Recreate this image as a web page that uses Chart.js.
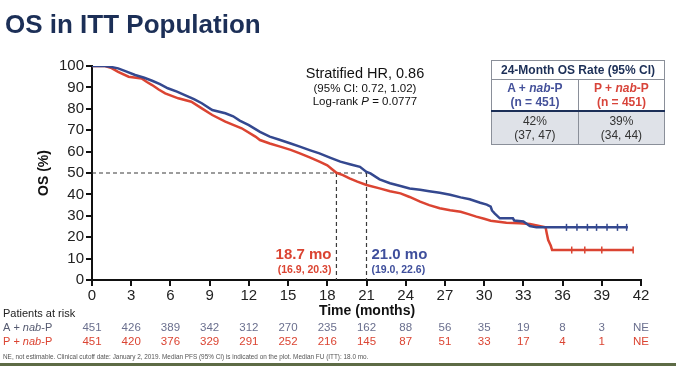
<!DOCTYPE html>
<html>
<head>
<meta charset="utf-8">
<script src="https://cdn.jsdelivr.net/npm/chart.js@4"></script>
<style>
  body { margin: 0; background: #fff; font-family: 'Liberation Sans', Arial, sans-serif; }
  .wrap { position: relative; width: 676px; height: 366px; overflow: hidden; }
  #km { position: absolute; left: 0; top: 0; }
  .title { position: absolute; left: 5px; top: 9px; font-size: 26px; font-weight: bold; color: #1c2f57; white-space: nowrap; }
  .stats { position: absolute; left: 295px; top: 64px; width: 140px; text-align: center; color: #111; }
  .stats .l1 { font-size: 14.5px; line-height: 18px; }
  .stats .l2 { font-size: 11.5px; line-height: 13px; }
  table.rate { position: absolute; left: 491px; top: 60px; width: 174px; border-collapse: collapse; font-size: 12px; text-align: center; }
  table.rate td { border: 1px solid #8a8f99; padding: 0; line-height: 14px; }
  table.rate .hd { font-weight: bold; color: #1c2f57; height: 18px; }
  table.rate .arm { font-weight: bold; height: 30px; border-bottom: 2px solid #1c2f57; }
  table.rate .val { background: #dfe2e8; color: #333; height: 32px; }
  .blue { color: #44519a; }
  .red { color: #d8443a; }
  .foot { position: absolute; left: 3px; top: 353px; font-size: 6.4px; color: #555; white-space: nowrap; }
  .bar { position: absolute; left: 0; top: 363px; width: 676px; height: 3px; background: #5d6b45; }
</style>
</head>
<body>
<div class="wrap">
  <canvas id="km" width="676" height="366"></canvas>
  <div class="title">OS in ITT Population</div>
  <div class="stats">
    <div class="l1">Stratified HR, 0.86</div>
    <div class="l2">(95% CI: 0.72, 1.02)</div>
    <div class="l2">Log-rank <i>P</i> = 0.0777</div>
  </div>
  <table class="rate">
    <tr><td class="hd" colspan="2">24-Month OS Rate (95% CI)</td></tr>
    <tr>
      <td class="arm blue">A + <i>nab</i>-P<br>(n = 451)</td>
      <td class="arm red">P + <i>nab</i>-P<br>(n = 451)</td>
    </tr>
    <tr>
      <td class="val">42%<br>(37, 47)</td>
      <td class="val">39%<br>(34, 44)</td>
    </tr>
  </table>
  <div class="foot">NE, not estimable. Clinical cutoff date: January 2, 2019. Median PFS (95% CI) is indicated on the plot. Median FU (ITT): 18.0 mo.</div>
  <div class="bar"></div>
</div>
<script>
// 시간축 눈금
const xTicks = [0, 3, 6, 9, 12, 15, 18, 21, 24, 27, 30, 33, 36, 39, 42];
const yTicks = [0, 10, 20, 30, 40, 50, 60, 70, 80, 90, 100];

// A + nab-P (파랑)
const aTime = [0, 1.0, 1.5, 2.0, 2.6, 3.3, 4.0, 4.6, 5.2, 5.8, 6.5, 7.1, 7.8, 8.4, 9.2, 10.2, 10.8, 11.3, 12.0, 12.85, 13.6, 14.4, 15.2, 15.9, 16.7, 17.4, 18.2, 19.0, 19.8, 20.5, 21.0, 21.3, 22.0, 22.8, 23.6, 24.3, 25.1, 25.8, 26.6, 27.4, 28.2, 28.9, 29.7, 30.2, 30.5, 30.6, 30.8, 31.2, 32.2, 32.3, 33.0, 33.5, 34.0, 41.0];
const aSurv = [100, 100, 99.5, 98.9, 97.5, 95.8, 94.5, 93.1, 91.5, 89.6, 88, 86.4, 84.5, 82.6, 79.4, 77.9, 76.5, 74.5, 72.4, 69.2, 67, 65.4, 63.8, 62.3, 60.6, 59.2, 57.2, 55.3, 54, 52.9, 50.5, 49.8, 47, 45.2, 43.9, 42.8, 42.2, 41.5, 40.8, 39.8, 38.6, 37.7, 36.1, 35.2, 34.3, 32.5, 31.1, 28.8, 28.8, 27.8, 27.3, 25.2, 24.6, 24.6];
// P + nab-P (빨강)
const pTime = [0, 1.0, 1.5, 2.0, 2.8, 3.8, 4.2, 4.6, 5.1, 5.6, 6.6, 7.6, 8.4, 9.2, 10.2, 10.8, 11.45, 12.5, 12.85, 13.6, 14.4, 15.2, 15.9, 16.7, 17.4, 18.0, 18.7, 19.2, 19.7, 20.3, 21.0, 22.0, 22.8, 23.6, 24.3, 25.1, 25.8, 26.6, 27.4, 28.2, 28.8, 29.4, 30.0, 30.5, 31.7, 32.7, 33.5, 34.7, 34.8, 34.9, 35.1, 35.2, 41.4];
const pSurv = [100, 100, 99, 97.3, 95, 94.2, 92.5, 91.1, 89, 87.2, 84.9, 83.3, 80.2, 77.1, 74, 72.5, 70.9, 67, 65.4, 63.8, 62.3, 60.8, 59.2, 57.2, 55.3, 53.6, 50.1, 49, 47.5, 46, 44.4, 42.8, 41.5, 40.5, 38.8, 36.6, 35, 33.5, 32.6, 31.9, 30.8, 29.6, 28.6, 27.7, 26.8, 26.5, 26.2, 24.6, 21.5, 18.7, 16, 14, 14];

// 중도절단 표시
const aCensorT = [36.3, 37.1, 37.9, 38.6, 39.4, 40.2, 40.9];
const aCensorS = [24.6, 24.6, 24.6, 24.6, 24.6, 24.6, 24.6];
const pCensorT = [36.7, 37.7, 39.0, 41.4];
const pCensorS = [14, 14, 14, 14];

// 중앙 생존기간
const medians = [18.7, 21.0];

// 위험군 환자 수
const riskA = ['451', '426', '389', '342', '312', '270', '235', '162', '88', '56', '35', '19', '8', '3', 'NE'];
const riskP = ['451', '420', '376', '329', '291', '252', '216', '145', '87', '51', '33', '17', '4', '1', 'NE'];

const BLUE = '#34488f';
const RED = '#db4432';
const FONT = "'Liberation Sans', Arial, sans-serif";

const pts = (t, s) => t.map((v, i) => ({ x: v, y: s[i] }));

// 점선과 중앙값 라벨
const medianLines = {
    id: 'medianLines',
    beforeDatasetsDraw(chart) {
        const { ctx, scales: { x, y } } = chart;
        ctx.save();
        ctx.strokeStyle = '#3a3a3a';
        ctx.lineWidth = 1.2;
        ctx.setLineDash([4, 3]);
        ctx.beginPath();
        ctx.moveTo(x.getPixelForValue(0), y.getPixelForValue(50));
        ctx.lineTo(x.getPixelForValue(medians[1]), y.getPixelForValue(50));
        medians.forEach(m => {
            ctx.moveTo(x.getPixelForValue(m), y.getPixelForValue(50));
            ctx.lineTo(x.getPixelForValue(m), y.getPixelForValue(0));
        });
        ctx.stroke();
        ctx.restore();
    },
    afterDraw(chart) {
        const { ctx, scales: { x, y } } = chart;
        ctx.save();
        ctx.textBaseline = 'middle';
        // 18.7 mo
        ctx.fillStyle = RED;
        ctx.textAlign = 'right';
        ctx.font = `bold 15px ${FONT}`;
        ctx.fillText('18.7 mo', x.getPixelForValue(medians[0]) - 5, 255);
        ctx.font = `bold 10.5px ${FONT}`;
        ctx.fillText('(16.9, 20.3)', x.getPixelForValue(medians[0]) - 5, 270);
        // 21.0 mo
        ctx.fillStyle = '#3f4f9c';
        ctx.textAlign = 'left';
        ctx.font = `bold 15px ${FONT}`;
        ctx.fillText('21.0 mo', x.getPixelForValue(medians[1]) + 5, 255);
        ctx.font = `bold 10.5px ${FONT}`;
        ctx.fillText('(19.0, 22.6)', x.getPixelForValue(medians[1]) + 5, 270);

        // 축 제목
        ctx.fillStyle = '#111';
        ctx.textAlign = 'center';
        ctx.font = `bold 14px ${FONT}`;
        ctx.fillText('Time (months)', 367, 311);
        ctx.save();
        ctx.translate(44, (y.top + y.bottom) / 2);
        ctx.rotate(-Math.PI / 2);
        ctx.fillText('OS (%)', 0, 0);
        ctx.restore();

        // 위험군 표
        ctx.textAlign = 'left';
        ctx.font = `11px ${FONT}`;
        ctx.fillStyle = '#222';
        ctx.fillText('Patients at risk', 3, 314);
        const label = (txt1, col, yy) => {
            ctx.fillStyle = col;
            ctx.font = `11px ${FONT}`;
            let px = 3;
            ctx.fillText(txt1, px, yy);
            px += ctx.measureText(txt1).width;
            ctx.font = `italic 11px ${FONT}`;
            ctx.fillText('nab', px, yy);
            px += ctx.measureText('nab').width;
            ctx.font = `11px ${FONT}`;
            ctx.fillText('-P', px, yy);
        };
        label('A + ', '#555a70', 328);
        label('P + ', RED, 342);
        ctx.textAlign = 'center';
        ctx.font = `11.5px ${FONT}`;
        xTicks.forEach((t, i) => {
            const px = x.getPixelForValue(t);
            ctx.fillStyle = '#6a6f8e';
            ctx.fillText(riskA[i], px, 328);
            ctx.fillStyle = RED;
            ctx.fillText(riskP[i], px, 342);
        });
        ctx.restore();
    }
};

new Chart(document.getElementById('km'), {
    type: 'line',
    data: {
        datasets: [
            { data: pts(aTime, aSurv), borderColor: BLUE, borderWidth: 2.5, pointRadius: 0, tension: 0 },
            { data: pts(pTime, pSurv), borderColor: RED, borderWidth: 2.5, pointRadius: 0, tension: 0 },
            { data: pts(aCensorT, aCensorS), showLine: false, pointStyle: 'line', rotation: 90, pointRadius: 3.5, borderColor: BLUE, borderWidth: 1.5 },
            { data: pts(pCensorT, pCensorS), showLine: false, pointStyle: 'line', rotation: 90, pointRadius: 3.5, borderColor: RED, borderWidth: 1.5 }
        ]
    },
    options: {
        responsive: false,
        animation: false,
        devicePixelRatio: 1,
        layout: { padding: { top: 66, right: 35, left: 0, bottom: 0 } },
        plugins: { legend: { display: false }, tooltip: { enabled: false } },
        scales: {
            x: {
                type: 'linear', min: 0, max: 42,
                afterFit(s) { s.height = 86; },
                afterBuildTicks(s) { s.ticks = xTicks.map(v => ({ value: v })); },
                grid: { drawOnChartArea: false, tickLength: 6, color: '#111', lineWidth: 2 },
                border: { color: '#111', width: 2 },
                ticks: { color: '#222', font: { size: 15, family: FONT }, padding: 1, maxRotation: 0, autoSkip: false }
            },
            y: {
                min: 0, max: 100,
                afterFit(s) { s.width = 92; },
                afterBuildTicks(s) { s.ticks = yTicks.map(v => ({ value: v })); },
                grid: { drawOnChartArea: false, tickLength: 6, color: '#111', lineWidth: 2 },
                border: { color: '#111', width: 2 },
                ticks: { color: '#222', font: { size: 15, family: FONT }, padding: 2 }
            }
        }
    },
    plugins: [medianLines]
});
</script>
</body>
</html>
